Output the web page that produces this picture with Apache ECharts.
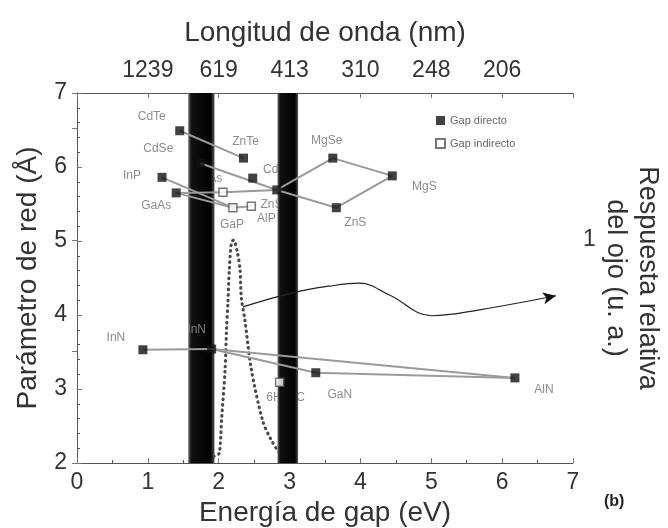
<!DOCTYPE html>
<html>
<head>
<meta charset="utf-8">
<script src="https://cdn.jsdelivr.net/npm/echarts@6/dist/echarts.min.js"></script>
<style>
html,body{margin:0;padding:0;background:#fff;}
#chart{width:668px;height:528px;}
</style>
</head>
<body>
<div id="chart"></div>
<script>
// valores
const directKeys = ['CdTe','ZnTe','CdSe','CdS','InP','GaAs','ZnSe','MgSe','MgS','ZnS','InN_a','InN_b','GaN','AlN'];
const directGap = [1.45,2.35,1.74,2.48,1.20,1.40,2.82,3.61,4.45,3.66,0.93,1.90,3.37,6.18];
const directLattice = [6.49,6.12,6.05,5.85,5.86,5.65,5.69,6.12,5.88,5.45,3.53,3.54,3.22,3.15];

const indirectKeys = ['AlAs','GaP','AlP','6H-SiC'];
const indirectGap = [2.06,2.20,2.46,2.86];
const indirectLattice = [5.66,5.45,5.47,3.09];

const connections = [
  ['CdTe','ZnTe'], ['CdSe','ZnSe'], ['InP','GaP'], ['GaAs','GaP'], ['GaAs','AlAs'],
  ['AlAs','ZnSe'], ['GaP','AlP'], ['ZnSe','MgSe'], ['MgSe','MgS'], ['MgS','ZnS'],
  ['ZnS','ZnSe'], ['InN_a','InN_b'], ['InN_b','GaN'], ['GaN','AlN'], ['InN_b','AlN']
];

// respuesta del ojo (eje derecho)
const eyeEnergy = [1.62,1.75,1.88,1.97,2.01,2.04,2.09,2.11,2.13,2.15,2.18,2.21,2.26,2.30,2.32,2.37,2.46,2.62,2.73,2.86,2.93,3.02];
const eyeResponse = [0.02,0.02,0.025,0.035,0.045,0.19,0.42,0.6,0.72,0.87,0.99,1.0,0.95,0.87,0.74,0.64,0.42,0.19,0.11,0.045,0.03,0.02];

// flecha hacia el eje derecho
const arrowEnergy = [2.34,3.04,3.56,3.99,4.41,5.01,5.68,6.76];
const arrowLattice = [4.11,4.30,4.39,4.43,4.27,3.99,4.07,4.26];

// límites del espectro visible (bandas negras)
const bandRanges = [[1.57,1.94],[2.83,3.12]];

const topLabels = ['','1239','619','413','310','248','206',''];

// desplazamiento de las etiquetas (px)
const labelOffset = {
  'CdTe':[-28,-14], 'CdSe':[-42,-15], 'ZnTe':[2,-16], 'CdS':[22,-8], 'InP':[-30,-2],
  'GaAs':[-20,13], 'AlAs':[-13,-13], 'GaP':[-1,17], 'AlP':[15,12], 'ZnSe':[-2,15],
  'MgSe':[-6,-17], 'MgS':[32,11], 'ZnS':[19,15], 'InN_a':[-27,-12], 'InN_b':[-15,-19],
  'GaN':[24,22], 'AlN':[29,12], '6H-SiC':[6,15]
};
const labelsOnTop = ['InN_b'];

const FONT = "'Liberation Sans', Arial, sans-serif";
const points = {};
directKeys.forEach((k,i) => points[k] = [directGap[i], directLattice[i]]);
indirectKeys.forEach((k,i) => points[k] = [indirectGap[i], indirectLattice[i]]);

function labelItems(onTop) {
  return Object.keys(points)
    .filter(k => labelsOnTop.includes(k) === onTop)
    .map(k => ({
      value: points[k],
      name: k.split('_')[0],
      label: { offset: labelOffset[k] || [0,0] }
    }));
}

const labelStyle = {
  show: true, position: 'inside', formatter: '{b}',
  color: '#6f6f6f', fontSize: 12, fontFamily: FONT
};

const bandColor = new echarts.graphic.LinearGradient(0,0,1,0,[
  {offset:0, color:'#6a6a6a'}, {offset:0.12, color:'#111'},
  {offset:0.85, color:'#000'}, {offset:1, color:'#555'}
]);

const series = [
  {
    type: 'line', name: 'ojo', xAxisIndex: 0, yAxisIndex: 1, z: 1, silent: true,
    data: eyeEnergy.map((e,i) => [e, eyeResponse[i]]),
    symbol: 'none', smooth: 0.3,
    lineStyle: { color: '#4a4a4a', width: 3.2, type: [0.5,5], cap: 'round' }
  },
  {
    type: 'line', name: 'bandas', z: 3, silent: true, symbol: 'none',
    data: [],
    markArea: {
      z: 3, silent: true,
      itemStyle: { color: bandColor },
      data: bandRanges.map(r => [{xAxis: r[0]}, {xAxis: r[1]}])
    }
  },
  {
    type: 'scatter', name: 'etiquetas', z: 2, silent: true, symbolSize: 0,
    data: labelItems(false), label: labelStyle
  }
];

connections.forEach(c => {
  series.push({
    type: 'line', z: 4, silent: true, symbol: 'none',
    data: [points[c[0]], points[c[1]]],
    lineStyle: { color: '#9a9a9a', width: 2 }
  });
});

series.push({
  type: 'line', z: 4, silent: true, smooth: 0.4, symbol: 'none', showSymbol: true,
  data: arrowEnergy.map((e,i) => {
    const last = i === arrowEnergy.length - 1;
    return last ? { value: [e, arrowLattice[i]], symbol: 'arrow', symbolSize: [9,13], symbolRotate: -78,
      itemStyle: { color: '#111' } } : [e, arrowLattice[i]];
  }),
  lineStyle: { color: '#222', width: 1.2 }
});

series.push({
  type: 'scatter', name: 'Gap directo', z: 5, symbol: 'rect', symbolSize: 9,
  data: directKeys.map(k => points[k]),
  itemStyle: { color: '#111' }
});
series.push({
  type: 'scatter', name: 'Gap indirecto', z: 5, symbol: 'rect', symbolSize: 8,
  data: indirectKeys.map(k => points[k]),
  itemStyle: { color: '#fff', borderColor: '#555', borderWidth: 1.5 }
});
series.push({
  type: 'scatter', name: 'etiquetas2', z: 6, silent: true, symbolSize: 0,
  data: labelItems(true), label: Object.assign({}, labelStyle, { color: '#999' })
});

const axisCommon = {
  axisLine: { show: true, lineStyle: { color: '#555', width: 1 } },
  axisTick: { show: true, inside: true, length: 5, lineStyle: { color: '#777' } },
  splitLine: { show: false },
  nameTextStyle: { fontSize: 28, color: '#333', fontFamily: FONT },
  axisLabel: { fontSize: 23, color: '#333', fontFamily: FONT }
};

const chart = echarts.init(document.getElementById('chart'));
chart.setOption({
  animation: false,
  backgroundColor: '#fff',
  grid: { left: 77, right: 95, top: 93, bottom: 65, outerBoundsMode: 'none', containLabel: false },
  legend: {
    data: ['Gap directo','Gap indirecto'], orient: 'vertical', left: 430, top: 110,
    itemWidth: 9, itemHeight: 9, itemGap: 12,
    textStyle: { color: '#666', fontSize: 11, fontFamily: FONT }
  },
  xAxis: [
    Object.assign({}, axisCommon, {
      type: 'value', position: 'bottom', min: 0, max: 7, interval: 1,
      name: 'Energía de gap (eV)', nameLocation: 'middle', nameGap: 34,
      minorTick: { show: true, splitNumber: 2, length: 3 },
      axisLabel: Object.assign({}, axisCommon.axisLabel, { margin: 8 })
    }),
    Object.assign({}, axisCommon, {
      type: 'value', position: 'top', min: 0, max: 7, interval: 1,
      name: 'Longitud de onda (nm)', nameLocation: 'middle', nameGap: 46,
      axisLabel: Object.assign({}, axisCommon.axisLabel, { margin: 11, formatter: v => topLabels[v] })
    })
  ],
  yAxis: [
    Object.assign({}, axisCommon, {
      type: 'value', min: 2, max: 7, interval: 1,
      name: 'Parámetro de red (Å)', nameLocation: 'middle', nameGap: 35, nameRotate: 90,
      minorTick: { show: true, splitNumber: 5, length: 3 },
      axisLabel: Object.assign({}, axisCommon.axisLabel, { margin: 10 })
    }),
    Object.assign({}, axisCommon, {
      type: 'value', position: 'right', min: 0, max: 1.66, interval: 0.5,
      name: 'Respuesta relativa\ndel ojo (u. a.)', nameLocation: 'middle', nameGap: 26, nameRotate: -90,
      nameMoveOverlap: false,
      nameTextStyle: { fontSize: 27, color: '#333', fontFamily: FONT, lineHeight: 32 },
      axisLabel: Object.assign({}, axisCommon.axisLabel, { margin: 10, formatter: v => v === 1 ? '1' : '' })
    })
  ],
  graphic: [{
    type: 'text', left: 604, top: 494,
    style: { text: '(b)', font: 'bold 16px ' + FONT, fill: '#222' }
  }],
  series: series
});
</script>
</body>
</html>
